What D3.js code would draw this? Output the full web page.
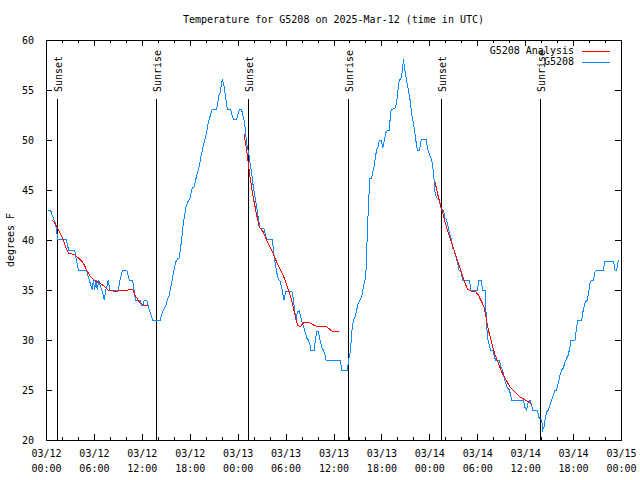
<!DOCTYPE html>
<html><head><meta charset="utf-8">
<script src="https://cdn.jsdelivr.net/npm/d3@7"></script>
<style>
body{margin:0;background:#fff;}
text{font-family:"DejaVu Sans Mono",monospace;font-size:10px;fill:#000;}
</style></head>
<body><svg id="c" width="640" height="480"></svg>
<script>
const title = "Temperature for G5208 on 2025-Mar-12 (time in UTC)";
const yLabel = "degrees F";
const xTickHours = [0,6,12,18,24,30,36,42,48,54,60,66,72];
const xTickDates = ["03/12","03/12","03/12","03/12","03/13","03/13","03/13","03/13","03/14","03/14","03/14","03/14","03/15"];
const xTickTimes = ["00:00","06:00","12:00","18:00","00:00","06:00","12:00","18:00","00:00","06:00","12:00","18:00","00:00"];
const yTicks = [20,25,30,35,40,45,50,55,60];
const sunHours = [1.40, 13.81, 25.33, 37.85, 49.40, 61.82];
const sunLabels = ["Sunset","Sunrise","Sunset","Sunrise","Sunset","Sunrise"];
const seriesNames = ["G5208 Analysis","G5208"];

// observations: hours since 03/12 00:00 UTC, temperature F
const obsHours = [0.29,0.58,0.71,0.92,1.13,1.34,1.42,2.59,2.67,2.84,3.59,3.76,3.92,4.09,5.09,5.22,5.43,5.59,5.80,5.93,6.09,6.26,6.43,6.60,6.76,6.97,7.18,7.30,7.47,7.68,7.80,7.97,9.06,9.26,9.43,9.60,10.10,10.27,10.44,10.85,11.02,11.19,11.77,11.98,12.15,12.31,12.61,12.77,12.94,13.15,13.36,14.30,14.48,14.69,15.03,15.19,15.44,15.61,15.74,15.86,16.03,16.24,16.45,16.65,16.78,16.90,17.07,17.20,17.36,17.53,17.74,18.03,18.16,18.32,18.57,18.74,18.95,19.16,19.37,19.58,19.78,19.99,20.20,20.33,20.45,20.66,20.83,21.37,21.50,21.66,21.83,21.96,22.08,22.21,22.33,22.46,22.58,22.71,23.12,23.29,23.46,23.88,24.08,24.29,24.50,24.71,24.84,24.96,25.04,25.21,25.38,25.55,25.75,25.96,26.17,26.38,26.59,26.80,27.30,27.42,27.63,28.36,28.47,28.68,28.88,29.09,29.30,29.51,29.63,29.80,29.93,30.05,30.76,30.89,31.06,31.18,31.31,31.48,31.73,31.90,32.06,32.31,32.48,32.64,32.85,33.06,33.15,33.57,33.73,33.90,34.11,34.23,34.40,34.57,34.73,34.94,35.07,36.82,36.95,37.03,37.74,37.86,38.07,38.19,38.32,38.49,38.70,38.90,39.11,39.32,39.53,39.74,39.95,40.07,40.16,40.28,40.45,40.57,40.78,40.91,41.08,41.24,41.41,41.58,41.75,42.00,42.16,42.33,42.54,42.75,43.00,43.08,43.21,43.71,43.92,44.04,44.25,44.42,44.59,44.67,44.75,44.88,45.00,45.17,45.38,45.59,45.80,46.01,46.22,46.43,46.55,46.76,46.93,47.05,47.60,47.76,47.93,48.10,48.31,48.43,48.60,48.71,48.92,49.25,49.42,49.75,49.96,50.17,50.38,50.59,50.80,50.92,51.09,51.34,51.51,51.72,51.97,52.18,53.01,53.22,54.02,54.22,54.47,54.68,54.98,55.10,55.27,55.43,55.68,56.02,56.14,56.31,56.77,56.94,57.19,57.35,57.56,57.77,58.02,58.19,58.31,59.78,59.94,60.19,60.36,60.61,60.73,60.94,61.53,61.69,61.86,62.07,62.19,62.36,62.48,62.69,62.90,63.11,63.31,63.52,63.73,63.94,64.15,64.36,64.57,64.78,64.99,65.20,65.40,65.61,65.74,66.24,66.45,66.58,67.08,67.20,67.37,67.54,67.79,67.96,68.12,68.29,68.54,68.75,68.96,69.79,70.00,71.05,71.26,71.46,71.67,71.80];
const obsTemps = [43.0,43.0,42.6,42.2,41.8,41.0,40.1,40.0,39.5,39.0,39.0,38.2,37.5,37.0,37.0,36.5,36.0,35.5,35.0,36.0,35.0,36.0,35.0,36.0,35.5,35.0,34.5,34.0,35.0,35.5,36.0,35.0,35.0,36.0,36.5,37.0,37.0,36.5,36.0,36.0,35.0,34.0,34.0,33.5,33.5,34.0,34.0,33.5,33.0,32.5,32.0,32.0,32.5,33.0,33.5,34.0,34.5,35.2,35.7,36.3,37.0,37.8,38.1,38.2,38.8,39.5,40.7,41.7,42.5,43.3,43.8,44.2,44.7,45.2,45.3,46.0,46.7,47.3,48.2,49.0,49.7,50.3,51.2,51.8,52.1,52.7,53.1,53.1,53.7,54.5,54.8,55.5,56.1,55.7,55.2,54.5,53.7,53.1,53.1,52.5,52.1,52.1,52.7,53.1,53.0,52.3,51.8,51.0,50.3,49.3,48.7,47.7,46.7,45.3,44.3,43.3,42.2,41.2,41.1,40.7,40.1,40.1,38.9,37.8,36.8,36.1,35.9,35.3,34.7,34.0,34.5,34.9,34.9,34.5,33.5,32.7,32.0,32.8,32.9,32.3,31.8,31.2,30.7,30.2,30.0,29.5,29.0,29.0,30.0,30.9,30.9,30.3,29.7,29.2,29.0,28.5,28.0,28.0,27.5,27.0,27.0,27.8,28.7,29.7,31.0,32.0,32.3,33.0,33.7,34.0,34.3,35.3,36.0,37.0,39.0,41.7,44.7,46.2,46.2,46.8,47.3,48.3,49.0,49.3,50.0,50.0,49.2,49.8,50.7,51.0,51.0,52.0,53.0,53.2,53.8,54.8,56.1,56.1,56.7,57.3,58.1,57.3,56.7,55.8,55.0,54.0,52.5,51.7,50.5,49.3,49.0,49.0,49.8,50.1,50.1,49.2,48.8,48.4,48.0,47.3,46.0,44.8,44.2,44.1,43.2,43.0,42.2,42.0,41.2,40.5,40.0,39.2,39.0,38.3,37.8,37.0,36.8,36.0,36.0,35.0,35.0,36.0,36.0,35.0,35.0,32.7,30.3,29.7,29.0,29.0,28.3,28.0,28.0,27.3,27.0,26.3,25.7,25.2,25.0,24.5,24.0,24.0,23.3,23.0,23.7,24.0,23.7,23.0,23.0,22.3,22.1,22.0,21.0,21.3,22.0,22.8,23.0,23.5,24.0,24.5,25.0,25.0,25.7,26.5,27.0,27.2,27.8,28.2,28.5,29.3,30.0,30.0,31.3,32.0,32.0,32.7,33.3,33.8,34.0,34.8,35.7,36.0,36.0,36.8,37.0,37.0,37.9,37.9,37.0,37.0,38.0,38.0];

// analysis: three overnight segments (null = gap)
const anaHours = [0.80,1.25,1.55,1.75,2.17,2.51,2.80,3.63,4.05,4.67,5.09,5.51,6.14,6.76,7.39,7.80,8.43,9.06,10.31,10.85,11.14,11.77,12.19,12.81,
  null,
  24.79,25.13,25.55,25.96,26.38,26.71,27.21,27.63,28.26,28.88,29.51,29.93,30.35,30.76,31.18,31.48,31.81,32.23,32.85,33.48,34.11,34.53,34.94,35.36,35.78,36.74,
  null,
  48.71,49.13,49.54,49.96,50.38,50.80,51.22,51.63,52.05,52.47,52.76,53.18,53.72,54.14,54.56,54.85,55.10,55.39,55.81,56.23,56.64,57.06,57.48,58.10,58.73,59.36,59.99,60.61,60.82];
const anaTemps = [42.0,41.5,41.0,40.7,40.0,39.2,38.7,38.5,38.2,37.7,37.0,36.4,35.9,35.7,35.3,35.0,34.9,34.9,35.0,35.1,34.5,33.7,33.5,33.4,
  null,
  50.6,49.0,46.3,44.2,42.5,41.3,40.8,40.0,39.0,37.8,36.8,36.0,35.0,34.0,32.5,31.5,31.3,31.7,31.8,31.5,31.3,31.4,31.4,31.2,30.9,30.9,
  null,
  45.8,44.3,43.1,41.8,40.7,39.7,38.7,37.7,36.7,35.7,35.1,34.9,34.9,34.5,33.8,33.3,32.3,31.0,29.7,28.5,27.7,26.8,26.2,25.3,24.8,24.3,24.0,23.7,23.5];

const L=46, R=621, T=40, B=440;
const svg = d3.select("#c");
const x = d3.scaleLinear().domain([0,72]).range([L,R]);
const y = d3.scaleLinear().domain([20,60]).range([B,T]);

svg.append("rect").attr("width",640).attr("height",480).attr("fill","#fff");

// title & y label
svg.append("text").attr("x",(L+R)/2).attr("y",20).attr("text-anchor","middle").attr("dominant-baseline","middle").text(title);
svg.append("text").attr("transform",`translate(11,${(T+B)/2}) rotate(-90)`).attr("text-anchor","middle").attr("dominant-baseline","middle").text(yLabel);

// axes (inward ticks)
const minorHours = d3.range(0,73,2).filter(h=>h%6!==0);
function styleAxis(g){ g.select(".domain").remove(); g.selectAll("line").attr("stroke","#000").attr("shape-rendering","crispEdges"); }
const xb = svg.append("g").attr("transform",`translate(0,${B})`)
  .call(d3.axisBottom(x).tickValues(xTickHours).tickSize(-6).tickPadding(9).tickFormat((d,i)=>xTickDates[i]));
styleAxis(xb);
xb.selectAll(".tick text").attr("font-size",null).attr("font-family",null).attr("dy",null).attr("y",14).attr("dominant-baseline","middle")
  .each(function(d,i){ const t=d3.select(this); t.text(null);
    t.append("tspan").attr("x",0).attr("y",14).text(xTickDates[i]);
    t.append("tspan").attr("x",0).attr("y",29).text(xTickTimes[i]); });
styleAxis(svg.append("g").attr("transform",`translate(0,${B})`).call(d3.axisBottom(x).tickValues(minorHours).tickSize(-3).tickFormat("")));
styleAxis(svg.append("g").attr("transform",`translate(0,${T})`).call(d3.axisTop(x).tickValues(xTickHours).tickSize(-6).tickFormat("")));
styleAxis(svg.append("g").attr("transform",`translate(0,${T})`).call(d3.axisTop(x).tickValues(minorHours).tickSize(-3).tickFormat("")));
const yl = svg.append("g").attr("transform",`translate(${L},0)`).call(d3.axisLeft(y).tickValues(yTicks).tickSize(-6).tickPadding(12).tickFormat(d3.format("d")));
styleAxis(yl);
yl.selectAll(".tick text").attr("font-size",null).attr("font-family",null).attr("dy",null).attr("dominant-baseline","middle");
styleAxis(svg.append("g").attr("transform",`translate(${R},0)`).call(d3.axisRight(y).tickValues(yTicks).tickSize(-6).tickFormat("")));

// frame
svg.append("rect").attr("x",L).attr("y",T).attr("width",R-L).attr("height",B-T)
  .attr("fill","none").attr("stroke","#000").attr("shape-rendering","crispEdges");

// sunrise / sunset markers
const sun = svg.append("g");
sunHours.forEach((h,i)=>{
  const px = Math.round(x(h))+0.5;
  sun.append("line").attr("x1",px).attr("x2",px).attr("y1",99).attr("y2",B).attr("stroke","#000").attr("shape-rendering","crispEdges");
  sun.append("text").attr("transform",`translate(${px+4},92) rotate(-90)`).attr("text-anchor","start").text(sunLabels[i]);
});

svg.append("clipPath").attr("id","pc").append("rect").attr("x",L).attr("y",T).attr("width",R-L).attr("height",B-T);

const obsLine = d3.line().x((d,i)=>x(obsHours[i])).y((d,i)=>y(obsTemps[i]));
svg.append("path").datum(obsTemps).attr("d",obsLine).attr("fill","none").attr("stroke","#0a88ff").attr("stroke-width",1).attr("shape-rendering","crispEdges").attr("clip-path","url(#pc)");
const anaLine = d3.line().defined((d,i)=>anaHours[i]!==null).x((d,i)=>x(anaHours[i])).y((d,i)=>y(anaTemps[i]));
svg.append("path").datum(anaTemps).attr("d",anaLine).attr("fill","none").attr("stroke","#ff0000").attr("stroke-width",1).attr("shape-rendering","crispEdges").attr("clip-path","url(#pc)");

// legend
const lg = svg.append("g");
const legColors = ["#ff0000","#0a88ff"];
seriesNames.forEach((n,i)=>{
  const yy = 51 + i*11;
  lg.append("text").attr("x",574).attr("y",yy).attr("text-anchor","end").attr("dominant-baseline","middle").text(n);
  lg.append("line").attr("x1",582).attr("x2",610).attr("y1",yy+0.5).attr("y2",yy+0.5).attr("stroke",legColors[i]).attr("stroke-width",1).attr("shape-rendering","crispEdges");
});
</script></body></html>
